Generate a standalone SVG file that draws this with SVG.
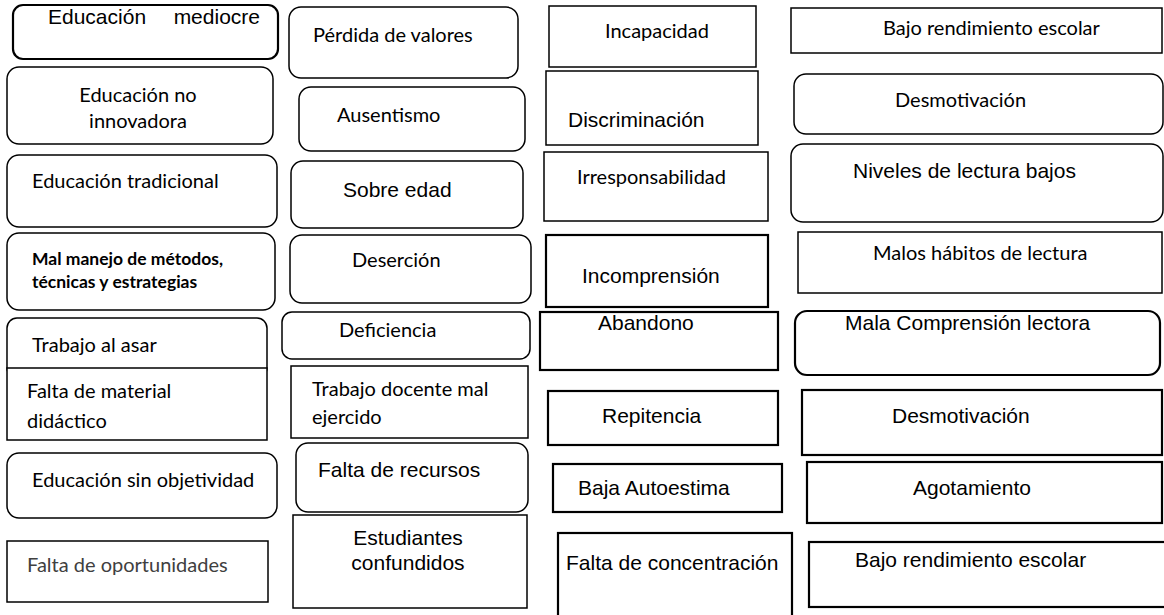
<svg xmlns="http://www.w3.org/2000/svg" width="1164" height="615" viewBox="0 0 1164 615">
<style>
.b{fill:#fff;stroke:#000;stroke-width:1.5}
.t{stroke-width:2.2}
.a{font-family:"Liberation Sans",Arial,sans-serif;font-size:21px;fill:#000}
.c{font-family:Lato,"Noto Sans",sans-serif;font-size:20px;fill:#000}
.cb{font-family:Lato,"Noto Sans",sans-serif;font-size:17.5px;font-weight:bold;fill:#000}
.g{fill:#404040}
.m{text-anchor:middle}
</style>
<rect width="1164" height="615" fill="#fff"/>
<g id="connectors"/>
<g id="n1"><rect class="b t" x="13" y="5" width="265" height="54" rx="10"/><text class="a" y="24"><tspan x="48">Educación</tspan><tspan x="260" text-anchor="end">mediocre</tspan></text></g>
<g id="n2"><rect class="b" x="7" y="67" width="266" height="77" rx="12"/><text class="c m" x="138" y="102">Educación no</text><text class="c m" x="138" y="128">innovadora</text></g>
<g id="n3"><rect class="b" x="7" y="155" width="270" height="72" rx="12"/><text class="c" x="32" y="188">Educación tradicional</text></g>
<g id="n4"><rect class="b" x="7" y="233" width="268" height="77" rx="12"/><text class="cb" x="32" y="265">Mal manejo de métodos,</text><text class="cb" x="32" y="288">técnicas y estrategias</text></g>
<g id="n5"><rect class="b" x="7" y="318" width="260" height="60" rx="10"/><text class="c" x="32" y="352">Trabajo al asar</text></g>
<g id="n6"><rect class="b" x="7" y="368" width="260" height="72"/><text class="c" x="27" y="398">Falta de material</text><text class="c" x="27" y="428">didáctico</text></g>
<g id="n7"><rect class="b" x="7" y="453" width="270" height="65" rx="12"/><text class="c" x="32" y="487">Educación sin objetividad</text></g>
<g id="n8"><rect class="b" x="7" y="541" width="261" height="61"/><text class="c g" x="27" y="572">Falta de oportunidades</text></g>
<g id="n9"><rect class="b" x="289" y="7" width="229" height="71" rx="12"/><text class="c" x="313" y="42">Pérdida de valores</text></g>
<g id="n10"><rect class="b" x="299" y="87" width="226" height="64" rx="12"/><text class="c" x="337" y="122">Ausentismo</text></g>
<g id="n11"><rect class="b" x="291" y="161" width="232" height="67" rx="12"/><text class="a" x="343" y="197">Sobre edad</text></g>
<g id="n12"><rect class="b" x="290" y="235" width="241" height="68" rx="12"/><text class="c" x="352" y="267">Deserción</text></g>
<g id="n13"><rect class="b" x="282" y="312" width="248" height="47" rx="10"/><text class="c" x="339" y="337">Deficiencia</text></g>
<g id="n14"><rect class="b" x="291" y="366" width="237" height="72"/><text class="c" x="312" y="396">Trabajo docente mal</text><text class="c" x="312" y="424">ejercido</text></g>
<g id="n15"><rect class="b" x="296" y="443" width="232" height="69" rx="12"/><text class="a" x="318" y="477">Falta de recursos</text></g>
<g id="n16"><rect class="b" x="293" y="515" width="234" height="93"/><text class="a m" x="408" y="545">Estudiantes</text><text class="a m" x="408" y="570">confundidos</text></g>
<g id="n17"><rect class="b" x="549" y="6" width="207" height="61"/><text class="c" x="605" y="38">Incapacidad</text></g>
<g id="n18"><rect class="b" x="546" y="71" width="212" height="74"/><text class="a" x="568" y="127">Discriminación</text></g>
<g id="n19"><rect class="b" x="544" y="152" width="224" height="69"/><text class="c" x="577" y="184">Irresponsabilidad</text></g>
<g id="n20"><rect class="b t" x="546" y="235" width="222" height="72"/><text class="a" x="582" y="283">Incomprensión</text></g>
<g id="n21"><rect class="b t" x="540" y="312" width="238" height="58"/><text class="a" x="598" y="330">Abandono</text></g>
<g id="n22"><rect class="b t" x="548" y="391" width="230" height="54"/><text class="a" x="602" y="423">Repitencia</text></g>
<g id="n23"><rect class="b t" x="553" y="464" width="229" height="48"/><text class="a" x="578" y="495">Baja Autoestima</text></g>
<g id="n24"><rect class="b t" x="558" y="533" width="234" height="100"/><text class="a" x="566" y="570">Falta de concentración</text></g>
<g id="n25"><rect class="b" x="791" y="8" width="371" height="45"/><text class="c" x="883" y="35">Bajo rendimiento escolar</text></g>
<g id="n26"><rect class="b" x="794" y="74" width="369" height="60" rx="12"/><text class="c" x="895" y="107">Desmotivación</text></g>
<g id="n27"><rect class="b" x="791" y="144" width="372" height="78" rx="12"/><text class="a" x="853" y="178">Niveles de lectura bajos</text></g>
<g id="n28"><rect class="b" x="798" y="232" width="364" height="61"/><text class="c" x="873" y="260">Malos hábitos de lectura</text></g>
<g id="n29"><rect class="b t" x="795" y="311" width="365" height="64" rx="12"/><text class="a" x="845" y="330">Mala Comprensión lectora</text></g>
<g id="n30"><rect class="b t" x="802" y="390" width="360" height="65"/><text class="a" x="892" y="423">Desmotivación</text></g>
<g id="n31"><rect class="b t" x="807" y="462" width="355" height="61"/><text class="a" x="913" y="495">Agotamiento</text></g>
<g id="n32"><rect class="b t" x="809" y="542" width="365" height="65"/><text class="a" x="855" y="567">Bajo rendimiento escolar</text></g>
</svg>
